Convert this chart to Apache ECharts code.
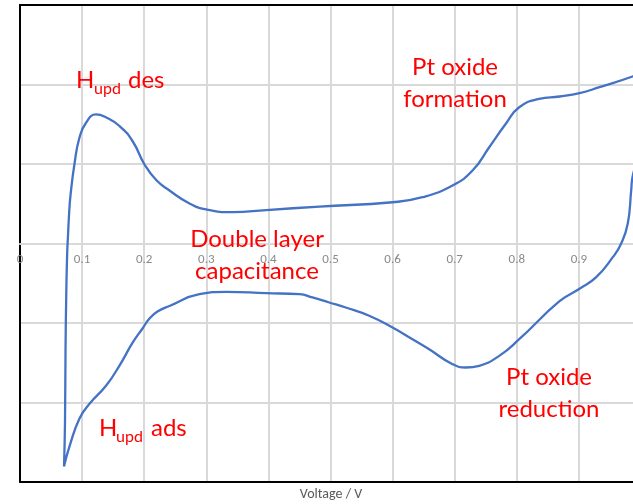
<!DOCTYPE html>
<html>
<head>
<meta charset="utf-8">
<script src="https://cdn.jsdelivr.net/npm/echarts@6/dist/echarts.min.js"></script>
<style>
  html, body { margin: 0; padding: 0; background: #ffffff; }
  #chart { width: 633px; height: 504px; }
</style>
</head>
<body>
<div id="chart"></div>
<script>
// Cyclic voltammogram of Pt: forward (anodic) sweep, then return (cathodic) sweep
const anodicV = [0.0709, 0.0725, 0.0733, 0.0746, 0.0760, 0.0773, 0.0789, 0.0813, 0.0878, 0.0958,
  0.1066, 0.1224, 0.1388, 0.1602, 0.1816, 0.2005, 0.2193, 0.2407, 0.2729, 0.2998,
  0.3427, 0.3965, 0.4823, 0.5998, 0.6481, 0.6965, 0.7287, 0.7556, 0.7823, 0.8039,
  0.8361, 0.8688, 0.9010, 0.9332, 0.9863, 1.0];
const anodicI = [-2.805, -2.226, -1.346, -0.591, -0.113, 0.101, 0.352, 0.604, 1.006, 1.333,
  1.522, 1.623, 1.585, 1.478, 1.283, 0.994, 0.799, 0.667, 0.503, 0.428,
  0.394, 0.421, 0.465, 0.519, 0.582, 0.730, 0.918, 1.211, 1.506, 1.714,
  1.820, 1.849, 1.891, 1.966, 2.101, 2.151];
const cathodicV = [1.0, 0.9863, 0.9842, 0.9787, 0.9681, 0.9546, 0.9279, 0.9010, 0.8688, 0.8039,
  0.7717, 0.7395, 0.7179, 0.6965, 0.6589, 0.6320, 0.5998, 0.5623, 0.5246, 0.4979,
  0.4710, 0.4501, 0.3965, 0.3320, 0.2890, 0.2407, 0.2214, 0.2085, 0.1973, 0.1816,
  0.1602, 0.1388, 0.1119, 0.0958, 0.0797, 0.0709];
const cathodicI = [1.3, 0.834, 0.667, 0.252, 0.0, -0.172, -0.424, -0.570, -0.726, -1.204,
  -1.413, -1.538, -1.560, -1.518, -1.330, -1.204, -1.057, -0.909, -0.805, -0.742,
  -0.679, -0.638, -0.625, -0.608, -0.638, -0.786, -0.855, -0.943, -1.069, -1.245,
  -1.535, -1.786, -2.016, -2.201, -2.553, -2.805];

const voltageTicks = ['0', '0.1', '0.2', '0.3', '0.4', '0.5', '0.6', '0.7', '0.8', '0.9', '1'];
const axisTitle = 'Voltage / V';

const loop = [];
anodicV.forEach((v, i) => loop.push([v, anodicI[i]]));
cathodicV.forEach((v, i) => loop.push([v, cathodicI[i]]));

const red = '#ff0000';
const labelFont = 'Lato, "Open Sans", sans-serif';
const gridColor = '#d9d9d9';

const gridTop = 5, gridHeight = 477;
const xMin = 0, xMax = 1;
const yMin = -3, yMax = 3;
// distance from the bottom edge of the plot up to the zero-current line
const zeroOffset = gridHeight * (0 - yMin) / (yMax - yMin);

function txt(x, y, text, size, align) {
  return {
    type: 'text', x: x, y: y, z: 100,
    style: { text: text, fill: red, font: size + 'px ' + labelFont, align: align || 'left', verticalAlign: 'bottom' }
  };
}

// plain black frame edge (no ticks, no labels)
function frameAxis(position) {
  return {
    type: 'value', min: xMin, max: xMax, position: position,
    axisLine: { onZero: false, lineStyle: { color: '#000000', width: 2 } },
    axisTick: { show: false }, axisLabel: { show: false }, splitLine: { show: false }
  };
}

const chart = echarts.init(document.getElementById('chart'), null, { renderer: 'canvas' });
chart.setOption({
  animation: false,
  backgroundColor: '#ffffff',
  grid: {
    left: 20, top: gridTop, width: 621, height: gridHeight,
    outerBoundsMode: 'none', containLabel: false
  },
  xAxis: [{
    type: 'value', min: xMin, max: xMax, interval: 0.1,
    position: 'bottom', offset: -zeroOffset,
    axisLine: { onZero: false, lineStyle: { color: gridColor, width: 2 } },
    axisTick: { show: false },
    axisLabel: {
      color: '#898989', fontSize: 13, margin: 10, fontFamily: 'Calibri, Carlito, "Open Sans", sans-serif',
      formatter: (v) => voltageTicks[Math.round(v * 10)] ?? ''
    },
    splitLine: { show: true, lineStyle: { color: gridColor, width: 2 } }
  }, frameAxis('bottom'), frameAxis('top')],
  yAxis: {
    type: 'value', min: yMin, max: yMax, interval: 1,
    position: 'left',
    axisLine: { show: true, onZero: false, lineStyle: { color: '#000000', width: 2 } },
    axisTick: { show: false },
    axisLabel: { show: false },
    splitLine: { show: true, lineStyle: { color: gridColor, width: 2 } }
  },
  series: [{
    type: 'line',
    data: loop,
    smooth: 0.5,
    showSymbol: false,
    lineStyle: { color: '#4472c4', width: 2.3 },
    z: 5
  }],
  graphic: [
    // H_upd desorption
    txt(76, 92, 'H', 24), txt(94, 97, 'upd', 16), txt(128, 92, 'des', 24),
    // H_upd adsorption
    txt(99, 440, 'H', 24), txt(116, 445, 'upd', 16), txt(151, 440, 'ads', 24),
    // Pt oxide formation
    txt(455, 79, 'Pt oxide', 24, 'center'), txt(455, 111, 'formation', 24, 'center'),
    // Double layer
    txt(257, 251, 'Double layer', 24, 'center'), txt(257, 283, 'capacitance', 24, 'center'),
    // Pt oxide reduction
    txt(549, 389, 'Pt oxide', 24, 'center'), txt(549, 421, 'reduction', 24, 'center'),
    {
      type: 'text', x: 331, y: 494, z: 100,
      style: { text: axisTitle, fill: '#595959', font: '14px Calibri, Carlito, "Open Sans", sans-serif', align: 'center', verticalAlign: 'middle' }
    }
  ]
});
</script>
</body>
</html>
